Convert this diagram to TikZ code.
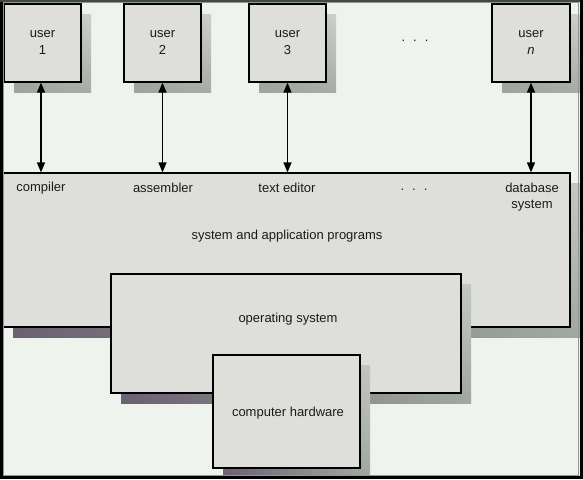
\documentclass[tikz,border=0pt]{standalone}
\usepackage{fontspec}
\setmainfont{Liberation Sans}
\usetikzlibrary{arrows.meta,shadings}
\definecolor{bgcol}{HTML}{EEF3EE}
\definecolor{boxfill}{HTML}{DEDFDB}
\definecolor{txtcol}{HTML}{1A1A1A}
\definecolor{usLL}{HTML}{A0A4A0}
\definecolor{usLR}{HTML}{A8ACA8}
\definecolor{usUL}{HTML}{A4A8A4}
\definecolor{usUR}{HTML}{CDD1CD}
\definecolor{bsLL}{HTML}{6A6070}
\definecolor{bsLR}{HTML}{A0A8A0}
\definecolor{bsUL}{HTML}{8A8490}
\definecolor{bsUR}{HTML}{C4C8C4}
\definecolor{framegray}{HTML}{909890}
\definecolor{framedark}{HTML}{404840}
\tikzset{
  box/.style={draw=black, line width=1.2pt, fill=boxfill, inner sep=0pt, outer sep=0pt,
              anchor=north west, text=txtcol, align=center,
              font=\fontsize{13}{17}\selectfont},
  lbl/.style={inner sep=0pt, text=txtcol, align=center, font=\fontsize{13}{16}\selectfont},
  dbl/.style={line width=1.4pt, {Triangle[length=10pt,width=8pt]}-{Triangle[length=10pt,width=8pt]}, shorten <=0.6pt, shorten >=0.6pt},
  usershadow/.style={lower left=usLL, lower right=usLR, upper left=usUL, upper right=usUR},
  bigshadow/.style={lower left=bsLL, lower right=bsLR, upper left=bsUL, upper right=bsUR},
}
\begin{document}
\begin{tikzpicture}[x=1pt,y=-1pt]
\useasboundingbox (0,0) rectangle (583,479);
\fill[bgcol] (0,0) rectangle (583,479);

% user shadows
\shade[usershadow] (14,14) rectangle (91,92);
\shade[usershadow] (134,14) rectangle (211,92);
\shade[usershadow] (259,14) rectangle (336,92);
\shade[usershadow] (502,14) rectangle (580,92);

% user boxes
\node[box, minimum width=77pt, minimum height=78pt] (u1) at (4,4) {user\\1};
\node[box, minimum width=77pt, minimum height=78pt] (u2) at (124,4) {user\\2};
\node[box, minimum width=77pt, minimum height=78pt] (u3) at (249,4) {user\\3};
\node[box, minimum width=78pt, minimum height=78pt] (un) at (492,4) {user\\\textit{n}};
\node[lbl] (dots1) at (415,41) {.\hspace{8pt}.\hspace{8pt}.};

% system and application programs
\shade[bigshadow] (13,183) rectangle (580,337);
\node[box, minimum width=567pt, minimum height=154pt] (apps) at (3,173) {};
\node[lbl] (comp) at (41,188) {compiler};
\node[lbl] (asm) at (163,188) {assembler};
\node[lbl] (ted) at (287,188) {text editor};
\node[lbl] (dots2) at (414,190) {.\hspace{8pt}.\hspace{8pt}.};
\node[lbl] (db) at (532,197) {database\\system};
\node[lbl] (appslbl) at (287,236) {system and application programs};

% operating system
\shade[bigshadow] (121,284) rectangle (471,403);
\node[box, minimum width=350pt, minimum height=119pt] (os) at (111,274) {};
\node[lbl] (oslbl) at (288,319) {operating system};

% computer hardware
\shade[bigshadow] (223,365) rectangle (370,478);
\node[box, minimum width=147pt, minimum height=113pt] (hw) at (213,355) {};
\node[lbl] (hwlbl) at (288,413) {computer hardware};

% arrows
\draw[dbl] ([xshift=-1.5pt]u1.south) -- ([xshift=-1.5pt]u1.south |- apps.north);
\draw[dbl] (u2.south) -- (u2.south |- apps.north);
\draw[dbl] (u3.south) -- (u3.south |- apps.north);
\draw[dbl] (un.south) -- (un.south |- apps.north);

% frame
\draw[line width=1pt, framegray] (3.5,2.5) -- (578.5,2.5) -- (578.5,475.5) -- (3.5,475.5) -- cycle;
\draw[line width=3pt, black] (1.5,0) -- (1.5,479);
\draw[line width=2pt, framedark] (0,1) -- (583,1);
\draw[line width=3pt, black] (581.5,0) -- (581.5,479);
\draw[line width=3pt, black] (0,477.5) -- (583,477.5);
\end{tikzpicture}
\end{document}
